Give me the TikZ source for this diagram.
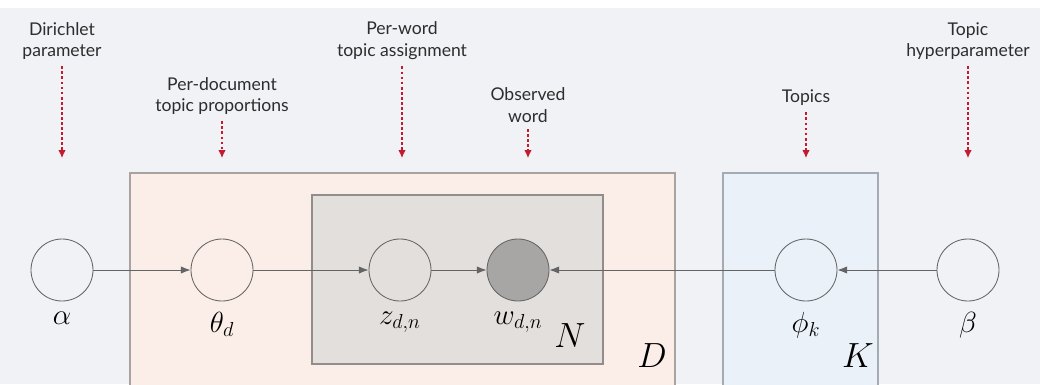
\documentclass[tikz,border=0pt]{standalone}
\usepackage{fontspec}
\setmainfont{Lato}
\usetikzlibrary{positioning,arrows.meta}
\definecolor{PageBack}{RGB}{240,242,246}
\definecolor{DocFill}{RGB}{251,238,232}
\definecolor{DocEdge}{RGB}{168,162,160}
\definecolor{WordFill}{RGB}{227,223,220}
\definecolor{WordEdge}{RGB}{146,141,138}
\definecolor{TopicFill}{RGB}{234,241,249}
\definecolor{TopicEdge}{RGB}{165,171,181}
\definecolor{NodeEdge}{RGB}{100,100,100}
\definecolor{ObsFill}{RGB}{168,165,165}
\definecolor{HintRed}{RGB}{196,26,48}
\definecolor{TextGray}{RGB}{45,45,45}
\tikzset{
  var/.style={circle,draw=NodeEdge,semithick,minimum size=1.55cm,inner sep=0pt},
  obs/.style={var,fill=ObsFill},
  mathlabel/.style={font=\huge,inner sep=1pt},
  platelabel/.style={font=\Huge,inner sep=0pt},
  edge/.style={-{Latex[length=2.4mm,width=1.8mm]},draw=NodeEdge,semithick},
  hint/.style={-{Latex[length=2mm,width=1.9mm]},draw=HintRed,thick,
    dash pattern=on 2pt off 1.6pt},
  caption/.style={align=center,text=TextGray,font=\fontsize{12.5}{15.5}\selectfont,inner sep=1pt},
  docplate/.style={draw=DocEdge,fill=DocFill,thick},
  wordplate/.style={draw=WordEdge,fill=WordFill,thick},
  topicplate/.style={draw=TopicEdge,fill=TopicFill,thick}
}

\begin{document}
\begin{tikzpicture}
  \useasboundingbox (0,0) rectangle (26,9.6);
  \clip (0,0) rectangle (26,9.6);
  \fill[white] (0,0) rectangle (26,9.6);
  \fill[PageBack] (0,0) rectangle (26,9.4);

  % plates
  \draw[docplate] (3.25,-0.2) rectangle (16.875,5.275);
  \draw[wordplate] (7.8,0.5) rectangle (15.075,4.725);
  \draw[topicplate] (18.075,-0.2) rectangle (21.95,5.275);
  \node[platelabel] (nplate) at (14.25,1.2) {$N$};
  \node[platelabel] (dplate) at (16.3,0.7) {$D$};
  \node[platelabel] (kplate) at (21.45,0.7) {$K$};

  % variables
  \node[var] (alpha) at (1.55,2.85) {};
  \node[var] (theta) at (5.55,2.85) {};
  \node[var] (z) at (10.0,2.85) {};
  \node[obs] (w) at (12.95,2.85) {};
  \node[var] (phi) at (20.15,2.85) {};
  \node[var] (beta) at (24.2,2.85) {};

  \node[mathlabel,below=0.22cm of alpha] (alphalbl) {$\alpha$};
  \node[mathlabel,below=0.22cm of theta] (thetalbl) {$\theta_d$};
  \node[mathlabel,below=0.22cm of z] (zlbl) {$z_{d,n}$};
  \node[mathlabel,below=0.22cm of w] (wlbl) {$w_{d,n}$};
  \node[mathlabel,below=0.22cm of phi] (philbl) {$\phi_k$};
  \node[mathlabel,below=0.22cm of beta] (betalbl) {$\beta$};

  \draw[edge] (alpha) -- (theta);
  \draw[edge] (theta) -- (z);
  \draw[edge] (z) -- (w);
  \draw[edge] (phi) -- (w);
  \draw[edge] (beta) -- (phi);

  % captions with red pointers
  \node[caption] (dirichlet) at (1.55,8.575) {Dirichlet\\parameter};
  \node[caption] (perdoc) at (5.55,7.2) {Per-document\\topic proportions};
  \node[caption] (perword) at (10.05,8.575) {Per-word\\topic assignment};
  \node[caption] (observed) at (13.2,6.975) {Observed\\word};
  \node[caption] (topics) at (20.15,7.15) {Topics};
  \node[caption] (topichyp) at (24.2,8.575) {Topic\\hyperparameter};

  \coordinate (dirtip) at (1.55,5.65);
  \coordinate (doctip) at (5.55,5.65);
  \coordinate (wordtip) at (10.05,5.65);
  \coordinate (obstip) at (13.2,5.65);
  \coordinate (topictip) at (20.15,5.65);
  \coordinate (hyptip) at (24.2,5.65);

  \draw[hint] ([yshift=-0.12cm]dirichlet.south) -- (dirtip);
  \draw[hint] ([yshift=-0.12cm]perdoc.south) -- (doctip);
  \draw[hint] ([yshift=-0.12cm]perword.south) -- (wordtip);
  \draw[hint] ([yshift=-0.12cm]observed.south) -- (obstip);
  \draw[hint] ([yshift=-0.12cm]topics.south) -- (topictip);
  \draw[hint] ([yshift=-0.12cm]topichyp.south) -- (hyptip);
\end{tikzpicture}
\end{document}
